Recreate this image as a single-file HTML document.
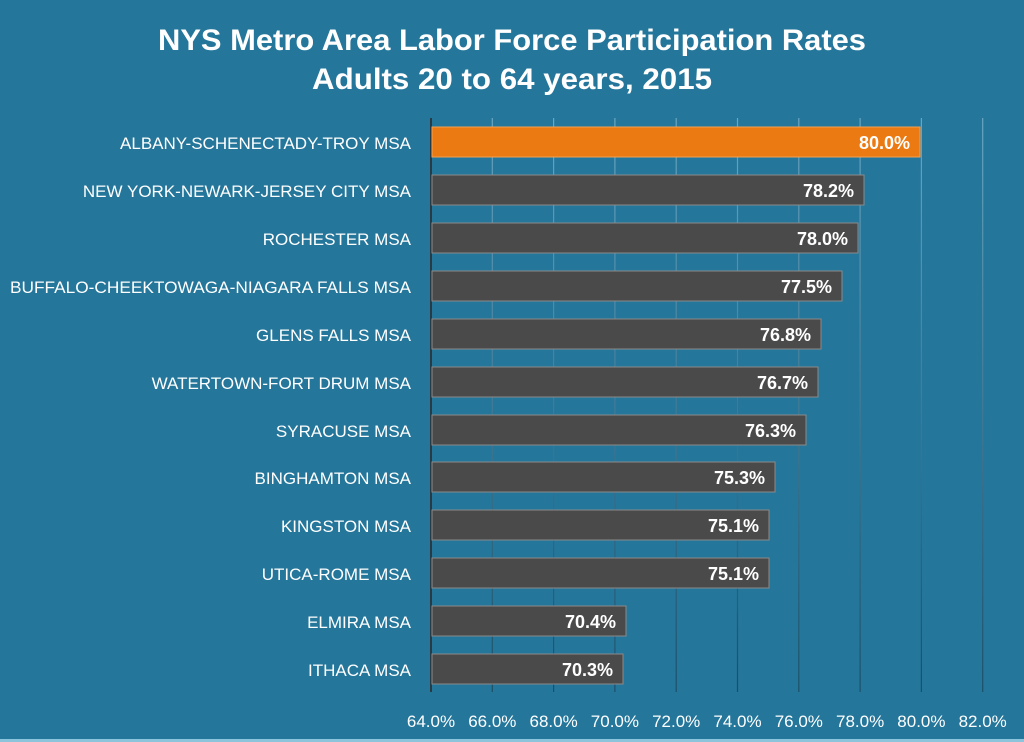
<!DOCTYPE html>
<html><head><style>
body{margin:0;background:#24769b;}
svg{display:block;font-family:"Liberation Sans",sans-serif;}
</style></head><body>
<svg width="1024" height="742" viewBox="0 0 1024 742">
<defs>
<linearGradient id="g" x1="0" y1="118" x2="0" y2="692" gradientUnits="userSpaceOnUse">
<stop offset="0" stop-color="#6aa6c2"/><stop offset="1" stop-color="#1b4f68"/>
</linearGradient>
</defs>
<rect width="1024" height="742" fill="#24769b"/>
<rect x="0" y="739" width="1024" height="3" fill="#8cc4dc"/>
<text x="512" y="50" text-anchor="middle" fill="#fff" font-size="30" font-weight="bold" textLength="708" lengthAdjust="spacingAndGlyphs">NYS Metro Area Labor Force Participation Rates</text>
<text x="512" y="89" text-anchor="middle" fill="#fff" font-size="30" font-weight="bold" textLength="400" lengthAdjust="spacingAndGlyphs">Adults 20 to 64 years, 2015</text>
<g stroke="url(#g)" stroke-width="1.2">
<line x1="492.3" y1="118" x2="492.3" y2="692"/><line x1="553.6" y1="118" x2="553.6" y2="692"/>
<line x1="614.9" y1="118" x2="614.9" y2="692"/><line x1="676.2" y1="118" x2="676.2" y2="692"/>
<line x1="737.5" y1="118" x2="737.5" y2="692"/><line x1="798.8" y1="118" x2="798.8" y2="692"/>
<line x1="860.1" y1="118" x2="860.1" y2="692"/><line x1="921.4" y1="118" x2="921.4" y2="692"/>
<line x1="982.7" y1="118" x2="982.7" y2="692"/>
</g>
<line x1="431" y1="118" x2="431" y2="692" stroke="#2a3a44" stroke-width="2"/>
<g fill="#fff" font-size="17" text-anchor="middle">
<text x="431" y="727">64.0%</text><text x="492.3" y="727">66.0%</text><text x="553.6" y="727">68.0%</text><text x="614.9" y="727">70.0%</text><text x="676.2" y="727">72.0%</text><text x="737.5" y="727">74.0%</text><text x="798.8" y="727">76.0%</text><text x="860.1" y="727">78.0%</text><text x="921.4" y="727">80.0%</text><text x="982.7" y="727">82.0%</text>
</g>
<g font-size="17" fill="#fff">
<rect x="432" y="127" width="488" height="30" fill="#ec7a12" stroke="#f5a050" stroke-width="1"/>
<text x="910" y="149" text-anchor="end" font-weight="bold" font-size="18">80.0%</text>
<text x="411" y="149" text-anchor="end">ALBANY-SCHENECTADY-TROY MSA</text>

<rect x="432" y="175" width="432" height="30" fill="#4a4a4a" stroke="#8a8a8a"/>
<text x="854" y="197" text-anchor="end" font-weight="bold" font-size="18">78.2%</text>
<text x="411" y="197" text-anchor="end">NEW YORK-NEWARK-JERSEY CITY MSA</text>

<rect x="432" y="223" width="426" height="30" fill="#4a4a4a" stroke="#8a8a8a"/>
<text x="848" y="245" text-anchor="end" font-weight="bold" font-size="18">78.0%</text>
<text x="411" y="245" text-anchor="end">ROCHESTER MSA</text>

<rect x="432" y="271" width="410" height="30" fill="#4a4a4a" stroke="#8a8a8a"/>
<text x="832" y="293" text-anchor="end" font-weight="bold" font-size="18">77.5%</text>
<text x="411" y="293" text-anchor="end" textLength="401" lengthAdjust="spacingAndGlyphs">BUFFALO-CHEEKTOWAGA-NIAGARA FALLS MSA</text>

<rect x="432" y="319" width="389" height="30" fill="#4a4a4a" stroke="#8a8a8a"/>
<text x="811" y="341" text-anchor="end" font-weight="bold" font-size="18">76.8%</text>
<text x="411" y="341" text-anchor="end">GLENS FALLS MSA</text>

<rect x="432" y="367" width="386" height="30" fill="#4a4a4a" stroke="#8a8a8a"/>
<text x="808" y="389" text-anchor="end" font-weight="bold" font-size="18">76.7%</text>
<text x="411" y="389" text-anchor="end">WATERTOWN-FORT DRUM MSA</text>

<rect x="432" y="415" width="374" height="30" fill="#4a4a4a" stroke="#8a8a8a"/>
<text x="796" y="437" text-anchor="end" font-weight="bold" font-size="18">76.3%</text>
<text x="411" y="437" text-anchor="end">SYRACUSE MSA</text>

<rect x="432" y="462" width="343" height="30" fill="#4a4a4a" stroke="#8a8a8a"/>
<text x="765" y="484" text-anchor="end" font-weight="bold" font-size="18">75.3%</text>
<text x="411" y="484" text-anchor="end">BINGHAMTON MSA</text>

<rect x="432" y="510" width="337" height="30" fill="#4a4a4a" stroke="#8a8a8a"/>
<text x="759" y="532" text-anchor="end" font-weight="bold" font-size="18">75.1%</text>
<text x="411" y="532" text-anchor="end">KINGSTON MSA</text>

<rect x="432" y="558" width="337" height="30" fill="#4a4a4a" stroke="#8a8a8a"/>
<text x="759" y="580" text-anchor="end" font-weight="bold" font-size="18">75.1%</text>
<text x="411" y="580" text-anchor="end">UTICA-ROME MSA</text>

<rect x="432" y="606" width="194" height="30" fill="#4a4a4a" stroke="#8a8a8a"/>
<text x="616" y="628" text-anchor="end" font-weight="bold" font-size="18">70.4%</text>
<text x="411" y="628" text-anchor="end">ELMIRA MSA</text>

<rect x="432" y="654" width="191" height="30" fill="#4a4a4a" stroke="#8a8a8a"/>
<text x="613" y="676" text-anchor="end" font-weight="bold" font-size="18">70.3%</text>
<text x="411" y="676" text-anchor="end">ITHACA MSA</text>
</g>
</svg>
</body></html>
